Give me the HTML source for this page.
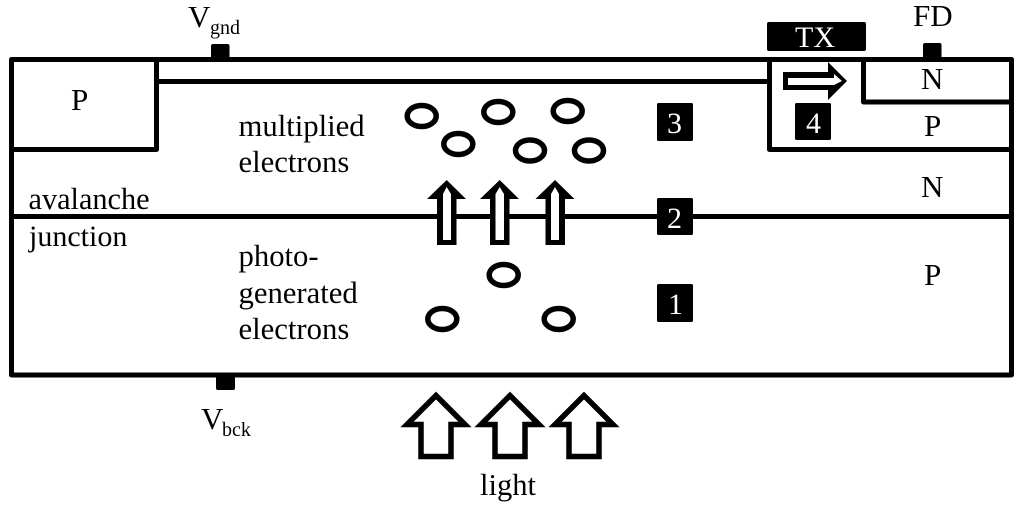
<!DOCTYPE html>
<html>
<head>
<meta charset="utf-8">
<style>
html,body{margin:0;padding:0;background:#fff}
svg{display:block}
text{font-family:"Liberation Serif",serif;fill:#000;font-size:30px}
.l{font-size:30.700px}
.c{font-size:31px}
.w{fill:#fff}
</style>
</head>
<body>
<svg width="1024" height="505" viewBox="0 0 1024 505" xmlns="http://www.w3.org/2000/svg">
<g fill="none" stroke="#000" stroke-width="5" stroke-linejoin="round">
<rect x="11.5" y="59.5" width="1000" height="315.5"/>
<path d="M11.5 149.5H156.5V59.5"/>
<path d="M156.5 81.5H769"/>
<path d="M1011.5 149.5H769.5V59.5"/>
<path d="M863.5 59.5V102H1011.5"/>
<path d="M11.5 216.5H1011.5"/>
</g>
<g fill="#000">
<rect x="211" y="44" width="18.500" height="16" rx="2"/>
<rect x="923" y="43" width="18.500" height="17" rx="2"/>
<rect x="216" y="374" width="19" height="16" rx="2"/>
<rect x="767" y="22" width="99" height="29" rx="2"/>
<rect x="657" y="103" width="36" height="38" rx="1.500"/>
<rect x="657" y="198" width="36" height="37" rx="1.500"/>
<rect x="657" y="284" width="36" height="38" rx="1.500"/>
<rect x="795" y="103" width="36" height="37" rx="1.500"/>
</g>
<!-- electrons -->
<g fill="#fff" stroke="#000" stroke-width="5.500">
<ellipse cx="421.700" cy="116" rx="14.500" ry="10.500"/>
<ellipse cx="498.300" cy="112" rx="14.500" ry="10.500"/>
<ellipse cx="567.700" cy="111" rx="14.500" ry="10.500"/>
<ellipse cx="458.300" cy="144" rx="14.500" ry="10.500"/>
<ellipse cx="530" cy="150.500" rx="14.500" ry="10.500"/>
<ellipse cx="589" cy="150.500" rx="14.500" ry="10.500"/>
<ellipse cx="503.700" cy="275" rx="14.500" ry="10.500"/>
<ellipse cx="442.300" cy="319" rx="14.500" ry="10.500"/>
<ellipse cx="558.700" cy="319" rx="14.500" ry="10.500"/>
</g>
<!-- small up arrows -->
<g fill="#000">
<polygon points="446.700,180 466,199 456.500,199 456.500,245 437,245 437,199 427,199"/>
<polygon points="499.700,180 519,199 509.500,199 509.500,245 490,245 490,199 480,199"/>
<polygon points="555,180 574.500,199 565,199 565,245 545.500,245 545.500,199 535.500,199"/>
</g>
<g fill="#fff">
<polygon points="446.700,187 451,194 451,240 443,240 443,194"/>
<polygon points="499.700,187 504,194 504,240 495.500,240 495.500,194"/>
<polygon points="555,187 559,194 559,240 551,240 551,194"/>
</g>
<!-- TX arrow -->
<polygon fill="#000" points="783,72 828,72 828,62 847,81 828,100 828,90 783,90"/>
<polygon fill="#fff" points="788,78 834,78 834,74 842,81 834,85 788,85"/>
<!-- light arrows -->
<g fill="#fff" stroke="#000" stroke-width="5.500" stroke-linejoin="miter" stroke-miterlimit="6">
<polygon points="436,395.500 407,424.500 421,424.500 421,456.500 451,456.500 451,424.500 465,424.500"/>
<polygon points="510,395.500 481,424.500 495,424.500 495,456.500 525,456.500 525,424.500 539,424.500"/>
<polygon points="584,395.500 555,424.500 569,424.500 569,456.500 599,456.500 599,424.500 613,424.500"/>
</g>
<!-- labels -->
<text x="71" y="110" class="c">P</text>
<text x="238.500" y="136" class="l">multiplied</text>
<text x="238.500" y="172" class="l">electrons</text>
<text x="28.500" y="209" style="font-size:30.300px">avalanche</text>
<text x="29" y="246">junction</text>
<text x="238.500" y="266" class="l">photo-</text>
<text x="238.500" y="303" class="l">generated</text>
<text x="238.500" y="339" class="l">electrons</text>
<text x="480" y="495" style="font-size:30.500px">light</text>
<text x="188" y="27" class="c">V</text>
<text x="210" y="34" style="font-size:20px">gnd</text>
<text x="201" y="429" class="c">V</text>
<text x="222" y="436" style="font-size:20px">bck</text>
<text x="913" y="26" class="c">FD</text>
<text x="921" y="89" class="c">N</text>
<text x="924" y="136" class="c">P</text>
<text x="921" y="197" class="c">N</text>
<text x="924" y="285" class="c">P</text>
<text x="795" y="47" class="w">TX</text>
<text x="667" y="133" class="w">3</text>
<text x="667" y="228" class="w">2</text>
<text x="668" y="314" class="w">1</text>
<text x="806" y="133" class="w">4</text>
</svg>
</body>
</html>
